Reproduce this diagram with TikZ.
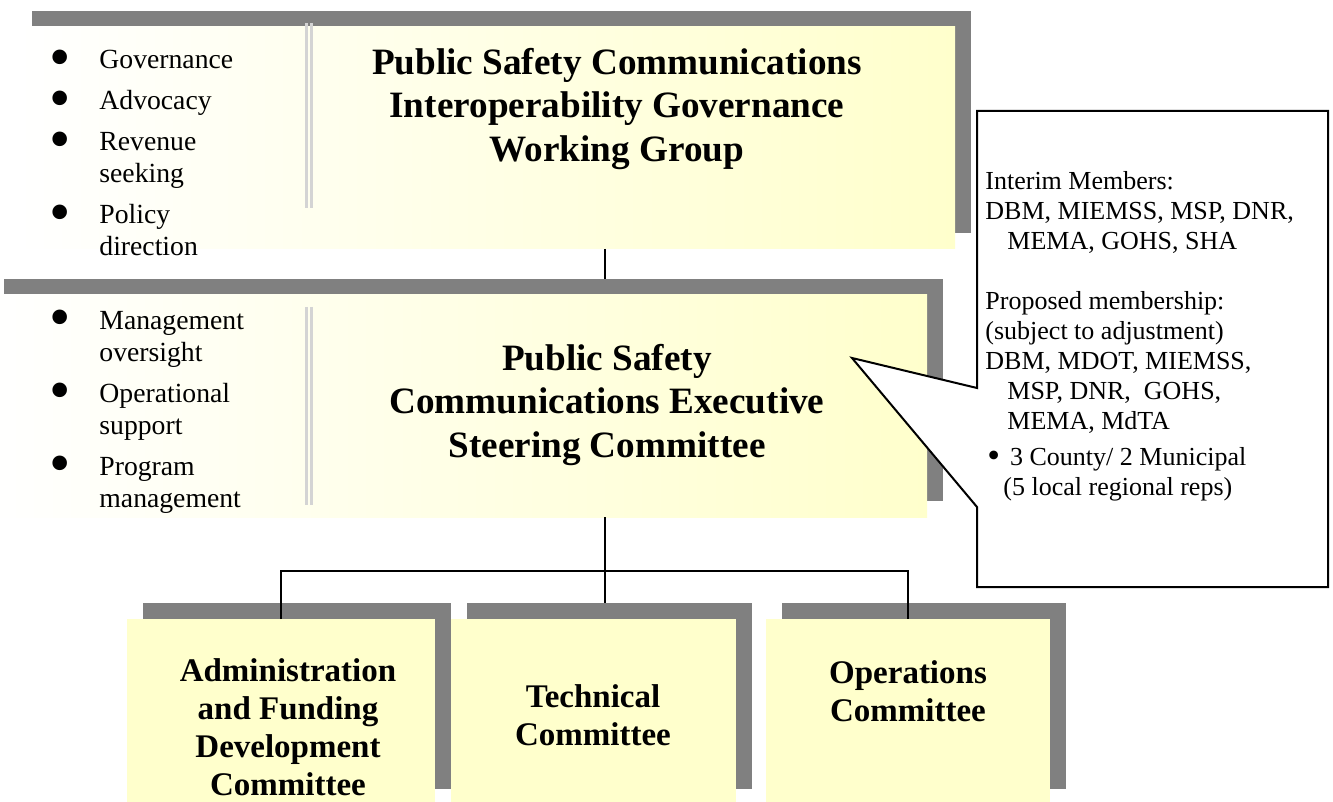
\documentclass[tikz,border=0pt]{standalone}
\usepackage{fontspec}
\setmainfont{Liberation Serif}
\usepackage{xcolor}
\definecolor{paleYellow}{HTML}{FFFFCC}
\definecolor{shadowGray}{HTML}{808080}
\definecolor{splitGray}{HTML}{D4D4D4}
\usepackage{tikz}
\usetikzlibrary{positioning,calc,shadows}
\newcommand{\bigDot}{\smash{\raisebox{-0.31em}{\scalebox{2.2}{\textbullet}}}}
\newcommand{\memoDot}{\smash{\raisebox{-0.08em}{\scalebox{1.4}{\textbullet}}}}
\tikzset{%
  groupBox/.style={%
    rectangle,
    inner sep=0pt,
    outer sep=0pt,
    anchor=north west,
    left color=white,
    right color=paleYellow,
    minimum width=469.5pt,
    minimum height=111pt,
    drop shadow={shadow xshift=8pt,shadow yshift=8pt,fill=shadowGray,opacity=1}
  },
  committeeBox/.style={%
    rectangle,
    inner sep=0pt,
    outer sep=0pt,
    anchor=north west,
    fill=paleYellow,
    minimum height=93pt,
    drop shadow={shadow xshift=8pt,shadow yshift=8pt,fill=shadowGray,opacity=1}
  },
  titleText/.style={%
    align=center,
    inner sep=0pt,
    font=\fontsize{18.6}{21.8}\selectfont\bfseries
  },
  committeeText/.style={%
    align=center,
    inner sep=0pt,
    font=\fontsize{16.5}{19}\selectfont\bfseries
  },
  taskList/.style={%
    anchor=base west,
    inner sep=0pt,
    font=\fontsize{13.85}{16}\selectfont
  },
  memoFrame/.style={%
    rectangle,
    inner sep=0pt,
    outer sep=0pt,
    anchor=north west,
    minimum width=175.5pt,
    minimum height=238pt
  },
  memoLine/.style={%
    draw=black,
    fill=white,
    line width=1pt
  },
  memoText/.style={%
    anchor=north west,
    inner sep=0pt,
    align=left,
    font=\fontsize{13}{15}\selectfont
  },
  linkLine/.style={%
    line width=1pt,
    color=black
  },
  splitLine/.style={%
    line width=1.5pt,
    color=splitGray
  }
}

\begin{document}
\begin{tikzpicture}[x=0.5pt,y=-0.5pt]
  \fill[white] (0,0) rectangle (1333,802);
  \useasboundingbox (0,0) rectangle (1333,802);

  % boxes
  \node[groupBox] (wg) at (16,27) {};
  \node[groupBox] (esc) at (-12,295) {};
  \node[committeeBox, minimum width=154pt] (admin) at (127,619) {};
  \node[committeeBox, minimum width=142.5pt] (tech) at (451,619) {};
  \node[committeeBox, minimum width=142pt] (ops) at (766,619) {};

  \foreach \sx in {306.5,311.5}{
    \draw[splitLine] (\sx,23) -- (\sx,208);
    \draw[splitLine] (\sx,307) -- (\sx,505);
  }

  % titles
  \node[titleText] (wgTitle) at (617,109) {Public Safety Communications\\Interoperability Governance\\Working Group};
  \node[titleText] (escTitle) at (607,405) {Public Safety\\Communications Executive\\Steering Committee};
  \node[committeeText] (adminTitle) at (288,727) {Administration\\and Funding\\Development\\Committee};
  \node[committeeText] (techTitle) at (593,715) {Technical\\Committee};
  \node[committeeText] (opsTitle) at (908,691) {Operations\\Committee};

  % task lists
  \node[taskList] (wgTasks) at (49,69) {\begin{tabular}[t]{@{}p{25pt}@{}l@{}}
    \bigDot & Governance\\[4.5pt]
    \bigDot & Advocacy\\[4.5pt]
    \bigDot & Revenue\\ & seeking\\[4.5pt]
    \bigDot & Policy\\ & direction
  \end{tabular}};
  \node[taskList] (escTasks) at (49,329) {\begin{tabular}[t]{@{}p{25pt}@{}l@{}}
    \bigDot & Management\\ & oversight\\[4.5pt]
    \bigDot & Operational\\ & support\\[4.5pt]
    \bigDot & Program\\ & management
  \end{tabular}};

  % connectors
  \coordinate (hub) at (605,571);
  \draw[linkLine] (wg.south -| hub) -- ($(esc.north -| hub)+(0,-16)$);
  \draw[linkLine] (esc.south -| hub) -- (hub);
  \draw[linkLine] (admin.north) |- (hub) -| (ops.north);
  \draw[linkLine] (hub) -- ($(tech.north -| hub)+(0,-16)$);

  % membership callout
  \coordinate (tip) at (852,358);
  \node[memoFrame] (memo) at (977,111) {};
  \coordinate (notchHi) at (977,388);
  \coordinate (notchLo) at (977,507);
  \filldraw[memoLine] (memo.north west) -- (memo.north east) -- (memo.south east)
    -- (memo.south west) -- (notchLo) -- (tip) -- (notchHi) -- cycle;
  \node[memoText] (members) at (985,171) {Interim Members:\\
    DBM, MIEMSS, MSP, DNR,\\
    \hspace*{11pt}MEMA, GOHS, SHA\\[15pt]
    Proposed membership:\\
    (subject to adjustment)\\
    DBM, MDOT, MIEMSS,\\
    \hspace*{11pt}MSP, DNR,\ \ GOHS,\\
    \hspace*{11pt}MEMA, MdTA\\[3pt]
    \hspace*{1pt}\memoDot\hspace*{5pt}3 County/ 2 Municipal\\
    \hspace*{9pt}(5 local regional reps)};
\end{tikzpicture}
\end{document}
